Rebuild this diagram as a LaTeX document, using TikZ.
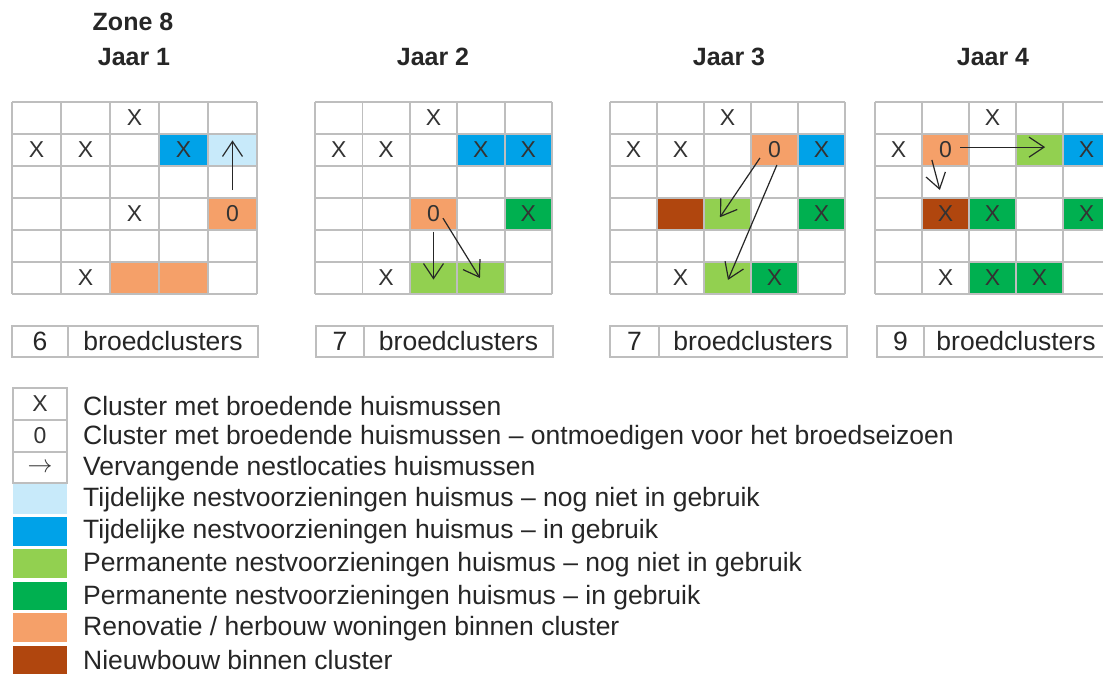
\documentclass[tikz,border=0pt]{standalone}
\usepackage{fontspec}
\setmainfont{Liberation Sans}
\usepackage{tikz}
\usetikzlibrary{arrows.meta,positioning}

\definecolor{lblue}{RGB}{200,234,250}
\definecolor{dblue}{RGB}{0,162,232}
\definecolor{lgreen}{RGB}{146,208,80}
\definecolor{dgreen}{RGB}{0,176,80}
\definecolor{renov}{RGB}{245,160,105}
\definecolor{nbouw}{RGB}{176,70,14}
\definecolor{lijn}{RGB}{190,190,190}

\begin{document}
\begin{tikzpicture}[x=1pt,y=-1pt,
  gridline/.style={draw=lijn,line width=1.8pt},
  cel/.style={inner sep=0pt,font=\fontsize{23}{23}\selectfont,text=black!80},
  titel/.style={font=\fontsize{25}{25}\selectfont\bfseries,text=black!85},
  tekst/.style={inner sep=0pt,font=\fontsize{26.5}{27}\selectfont,text=black!85},
  pijl/.style={-{Straight Barb[length=15pt,width=20pt]},line width=1.2pt,black!85}]
\useasboundingbox[fill=white] (0,0) rectangle (1103,673);

% titels
\node[titel] (zone) at (133,22) {Zone 8};
\node[titel] (jaar1) at (134,57) {Jaar 1};
\node[titel] (jaar2) at (433,57) {Jaar 2};
\node[titel] (jaar3) at (729,57) {Jaar 3};
\node[titel] (jaar4) at (993,57) {Jaar 4};

% jaar 1
\begin{scope}[shift={(12pt,-102pt)},x=49pt,y=-32pt]
\fill[dblue] (3,1) rectangle (4,2);
\fill[lblue] (4,1) rectangle (5,2);
\fill[renov] (4,3) rectangle (5,4);
\fill[renov] (2,5) rectangle (4,6);
\foreach \i in {0,...,5} \draw[gridline] (\i,0) -- (\i,6);
\foreach \j in {0,...,6} \draw[gridline] (0,\j) -- (5,\j);
\node[cel] (j1a) at (2.5,0.5) {X};
\node[cel] (j1b) at (0.5,1.5) {X};
\node[cel] (j1c) at (1.5,1.5) {X};
\node[cel] (j1d) at (3.5,1.5) {X};
\node[cel] (j1e) at (2.5,3.5) {X};
\node[cel] (j1o) at (4.5,3.5) {0};
\node[cel] (j1f) at (1.5,5.5) {X};
\coordinate (j1s) at (4.5,2.75);
\coordinate (j1t) at (4.5,1.2);
\draw[pijl] (j1s) -- (j1t);
\end{scope}

% jaar 2
\begin{scope}[shift={(315pt,-102pt)},x=47.4pt,y=-32pt]
\fill[dblue] (3,1) rectangle (5,2);
\fill[renov] (2,3) rectangle (3,4);
\fill[dgreen] (4,3) rectangle (5,4);
\fill[lgreen] (2,5) rectangle (4,6);
\foreach \i in {0,...,5} \draw[gridline] (\i,0) -- (\i,6);
\foreach \j in {0,...,6} \draw[gridline] (0,\j) -- (5,\j);
\node[cel] (j2a) at (2.5,0.5) {X};
\node[cel] (j2b) at (0.5,1.5) {X};
\node[cel] (j2c) at (1.5,1.5) {X};
\node[cel] (j2d) at (3.5,1.5) {X};
\node[cel] (j2e) at (4.5,1.5) {X};
\node[cel] (j2o) at (2.5,3.5) {0};
\node[cel] (j2f) at (4.5,3.5) {X};
\node[cel] (j2g) at (1.5,5.5) {X};
\coordinate (j2s1) at (2.5,4.05);
\coordinate (j2t1) at (2.5,5.55);
\coordinate (j2s2) at (2.7,3.63);
\coordinate (j2t2) at (3.48,5.5);
\draw[pijl] (j2s1) -- (j2t1);
\draw[pijl] (j2s2) -- (j2t2);
\end{scope}

% jaar 3
\begin{scope}[shift={(610pt,-102pt)},x=47pt,y=-32pt]
\fill[renov] (3,1) rectangle (4,2);
\fill[dblue] (4,1) rectangle (5,2);
\fill[nbouw] (1,3) rectangle (2,4);
\fill[lgreen] (2,3) rectangle (3,4);
\fill[dgreen] (4,3) rectangle (5,4);
\fill[lgreen] (2,5) rectangle (3,6);
\fill[dgreen] (3,5) rectangle (4,6);
\foreach \i in {0,...,5} \draw[gridline] (\i,0) -- (\i,6);
\foreach \j in {0,...,6} \draw[gridline] (0,\j) -- (5,\j);
\node[cel] (j3a) at (2.5,0.5) {X};
\node[cel] (j3b) at (0.5,1.5) {X};
\node[cel] (j3c) at (1.5,1.5) {X};
\node[cel] (j3o) at (3.5,1.5) {0};
\node[cel] (j3d) at (4.5,1.5) {X};
\node[cel] (j3e) at (4.5,3.5) {X};
\node[cel] (j3f) at (1.5,5.5) {X};
\node[cel] (j3g) at (3.5,5.5) {X};
\coordinate (j3s1) at (3.19,1.75);
\coordinate (j3t1) at (2.34,3.6);
\coordinate (j3s2) at (3.55,1.97);
\coordinate (j3t2) at (2.51,5.56);
\draw[pijl] (j3s1) -- (j3t1);
\draw[pijl] (j3s2) -- (j3t2);
\end{scope}

% jaar 4
\begin{scope}[shift={(875pt,-102pt)},x=47pt,y=-32pt]
\fill[renov] (1,1) rectangle (2,2);
\fill[lgreen] (3,1) rectangle (4,2);
\fill[dblue] (4,1) rectangle (5,2);
\fill[nbouw] (1,3) rectangle (2,4);
\fill[dgreen] (2,3) rectangle (3,4);
\fill[dgreen] (4,3) rectangle (5,4);
\fill[dgreen] (2,5) rectangle (4,6);
\foreach \i in {0,...,5} \draw[gridline] (\i,0) -- (\i,6);
\foreach \j in {0,...,6} \draw[gridline] (0,\j) -- (5,\j);
\node[cel] (j4a) at (2.5,0.5) {X};
\node[cel] (j4b) at (0.5,1.5) {X};
\node[cel] (j4o) at (1.5,1.5) {0};
\node[cel] (j4c) at (4.5,1.5) {X};
\node[cel] (j4d) at (1.5,3.5) {X};
\node[cel] (j4e) at (2.5,3.5) {X};
\node[cel] (j4f) at (4.5,3.5) {X};
\node[cel] (j4g) at (1.5,5.5) {X};
\node[cel] (j4h) at (2.5,5.5) {X};
\node[cel] (j4i) at (3.5,5.5) {X};
\coordinate (j4s1) at (1.81,1.41);
\coordinate (j4t1) at (3.62,1.41);
\coordinate (j4s2) at (1.21,1.81);
\coordinate (j4t2) at (1.38,2.75);
\draw[pijl] (j4s1) -- (j4t1);
\draw[pijl] (j4s2) -- (j4t2);
\end{scope}

% aantal broedclusters
\draw[draw=lijn,line width=1.5pt] (12,326) rectangle (258,357) (68,326) -- (68,357);
\node[tekst] (n1) at (40,341.5) {6};
\node[tekst] (b1) at (163,341.5) {broedclusters};
\draw[draw=lijn,line width=1.5pt] (316,326) rectangle (553,357) (364,326) -- (364,357);
\node[tekst] (n2) at (340,341.5) {7};
\node[tekst] (b2) at (458.5,341.5) {broedclusters};
\draw[draw=lijn,line width=1.5pt] (610,326) rectangle (847,357) (659,326) -- (659,357);
\node[tekst] (n3) at (634.5,341.5) {7};
\node[tekst] (b3) at (753,341.5) {broedclusters};
\draw[draw=lijn,line width=1.5pt] (877,326) rectangle (1130,357) (924,326) -- (924,357);
\node[tekst] (n4) at (900.5,341.5) {9};
\node[tekst] (b4) at (1016,341.5) {broedclusters};

% legenda
\draw[draw=lijn,line width=1.5pt] (13,388) rectangle (67,483) (13,420) -- (67,420) (13,452) -- (67,452);
\node[cel] (sx) at (40,404) {X};
\node[cel] (s0) at (40,436) {0};
\node[cel] (sp) at (40,467.5) {$\rightarrow$};
\fill[lblue] (13,484) rectangle (67,514);
\fill[dblue] (13,517) rectangle (67,546);
\fill[lgreen] (13,549) rectangle (67,578);
\fill[dgreen] (13,582) rectangle (67,610);
\fill[renov] (13,613) rectangle (67,642);
\fill[nbouw] (13,646) rectangle (67,676);
\node[tekst,anchor=west] (l1) at (83,406) {Cluster met broedende huismussen};
\node[tekst,anchor=west] (l2) at (83,437.5) {Cluster met broedende huismussen – ontmoedigen voor het broedseizoen};
\node[tekst,anchor=west] (l3) at (83,469) {Vervangende nestlocaties huismussen};
\node[tekst,anchor=west] (l4) at (83,500) {Tijdelijke nestvoorzieningen huismus – nog niet in gebruik};
\node[tekst,anchor=west] (l5) at (83,532) {Tijdelijke nestvoorzieningen huismus – in gebruik};
\node[tekst,anchor=west] (l6) at (83,565) {Permanente nestvoorzieningen huismus – nog niet in gebruik};
\node[tekst,anchor=west] (l7) at (83,597.5) {Permanente nestvoorzieningen huismus – in gebruik};
\node[tekst,anchor=west] (l8) at (83,629) {Renovatie / herbouw woningen binnen cluster};
\node[tekst,anchor=west] (l9) at (83,660) {Nieuwbouw binnen cluster};
\end{tikzpicture}
\end{document}
